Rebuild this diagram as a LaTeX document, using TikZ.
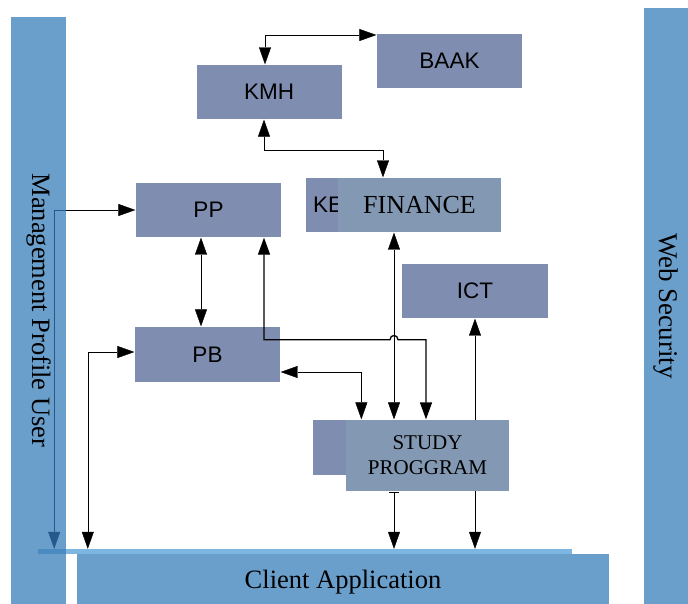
\documentclass[tikz,border=0pt]{standalone}
\usepackage{fontspec}
\setmainfont{Liberation Serif}
\setsansfont{Liberation Sans}
\usetikzlibrary{arrows.meta,calc,backgrounds}
\definecolor{boxblue}{HTML}{7F8EB0}
\definecolor{frontblue}{HTML}{8398B3}
\definecolor{barblue}{HTML}{6A9ECB}
\definecolor{thinblue}{HTML}{7DB6E1}
\definecolor{overlapblue}{HTML}{4C8AC2}
\definecolor{linkblue}{HTML}{27588B}

\begin{document}
\begin{tikzpicture}[x=1pt,y=-1pt,>={Triangle[length=17pt,width=12pt]},line width=1.3pt,
    unit node/.style={fill=boxblue,inner sep=0pt,minimum width=145pt,minimum height=54pt,font=\sffamily\fontsize{22.5}{27}\selectfont},
    front node/.style={fill=frontblue,inner sep=0pt,minimum width=163pt,font=\fontsize{26}{30}\selectfont},
    bar node/.style={fill=barblue,inner sep=0pt},
    bar label/.style={rotate=-90,font=\fontsize{26.5}{30}\selectfont}]

  \useasboundingbox (0,0) rectangle (688,604);

  % units
  \node[unit node] (kmh) at (269,92) {KMH};
  \node[unit node] (baak) at (449.5,61) {BAAK};
  \node[unit node] (pp) at (208.5,210) {PP};
  \node[unit node,minimum height=55pt] (pb) at (207.5,354.5) {PB};
  \node[unit node,minimum width=146pt] (ict) at (475,291) {ICT};
  \node[unit node,text width=131pt,inner xsep=7pt,align=left] (ke) at (378.5,205) {KE};
  \node[front node,minimum height=54pt] (fin) at (419.5,205) {FINANCE};
  \node[unit node,minimum height=55pt] (sback) at (385.5,447.5) {};
  \node[front node,minimum height=71pt,align=center,font=\fontsize{21}{25}\selectfont] (study) at (427.5,455.5) {STUDY\\PROGGRAM};

  \begin{scope}[on background layer]
    % frame bars
    \node[bar node,minimum width=55pt,minimum height=587pt] (mpu) at (38.5,310.5) {};
    \node[bar node,minimum width=44pt,minimum height=596pt] (websec) at (666,306) {};
    \node[bar node,minimum width=532pt,minimum height=50pt,text depth=0pt,font=\fontsize{26.5}{30}\selectfont] (client) at (343,579) {Client Application};
    \node[fill=thinblue,inner sep=0pt,minimum width=534pt,minimum height=5pt] (thin) at (305,551.5) {};
    \fill[overlapblue] (thin.north west) rectangle (thin.south west -| mpu.east);
    \node[bar label] (mpulabel) at (mpu.center) {Management Profile User};
    \node[bar label,font=\fontsize{27}{30}\selectfont] (webseclabel) at (websec.center) {Web Security};

    % links
    \coordinate (ppdrop) at ([xshift=-12pt]mpu.east |- pp.west);
    \draw[->] (mpu.east |- pp.west) -- (pp.west);
    \draw[linkblue,->] (mpu.east |- pp.west) -| (thin.north -| ppdrop);
    \coordinate (pbdrop) at ([xshift=11pt]client.north west);
    \draw[<->] ([yshift=2.5pt]pb.west) -| (thin.north -| pbdrop);
    \draw[<->] ([xshift=-4pt]kmh.north) |- ([yshift=26pt]baak.west);
    \draw[<->] ([xshift=-5pt]kmh.south) -- ++(0,31) -| ([xshift=-36.5pt]fin.north);
    \path ([xshift=-7.5pt]pp.south) edge[<->] ([xshift=-7.5pt]pp.south |- pb.north);
    \draw[<->] ([yshift=-17.5pt]pb.east) -| ([xshift=16pt]study.north west);
    \coordinate (finx) at ([xshift=-25.5pt]fin.south);
    \draw[<->] (finx) -- (finx |- study.north);
    \draw[<->] (ict.south) -- (ict.south |- thin.north);
    \draw[{Bar[width=10pt]}->] (finx |- study.south) -- (finx |- thin.north);
  \end{scope}

  % PP link runs over PB
  \coordinate (bend) at ([xshift=55.5pt,yshift=-102pt]pp.south);
  \draw[<->] (bend |- pp.south) -- (bend) -- ($(bend -| finx)+(-4,0)$)
    .. controls +(0,-5.5) and +(0,-5.5) .. ($(bend -| finx)+(4,0)$) -| ([xshift=-1.5pt]study.north);
\end{tikzpicture}
\end{document}
